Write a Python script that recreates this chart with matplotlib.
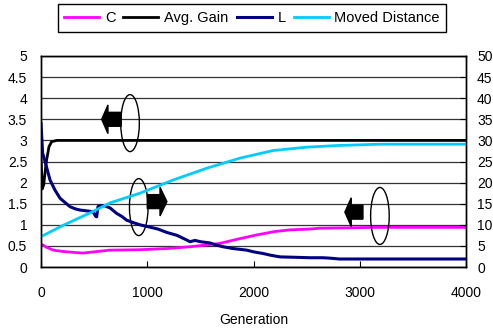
import matplotlib.pyplot as plt
from matplotlib.patches import Ellipse, Polygon

plt.rcParams['font.family'] = ['Liberation Sans', 'DejaVu Sans']
plt.rcParams['font.size'] = 10

# left axis series
c_gen = [0, 50, 116, 200, 336, 395, 500, 650, 932, 1200, 1402, 1550, 1684, 1850,
         2030, 2200, 2343, 2530, 2625, 3190, 4000]
c_val = [0.55, 0.47, 0.40, 0.37, 0.34, 0.33, 0.36, 0.40, 0.41, 0.44, 0.48, 0.52,
         0.56, 0.66, 0.76, 0.84, 0.88, 0.90, 0.92, 0.94, 0.94]

gain_gen = [0, 12, 25, 50, 75, 100, 150, 4000]
gain_val = [2.6, 1.85, 1.95, 2.5, 2.85, 2.97, 3.0, 3.0]

# right axis series
l_gen = [0, 15, 38, 85, 132, 179, 230, 273, 320, 367, 430, 489, 515, 524, 536, 555,
         600, 650, 712, 760, 806, 870, 932, 1000, 1100, 1183, 1280, 1371, 1402, 1450,
         1500, 1590, 1650, 1713, 1800, 1936, 2000, 2090, 2160, 2250, 2400, 2530, 2650,
         2720, 2810, 3000, 4000]
l_val = [34, 27, 25, 20.6, 18.2, 16.3, 15.2, 14.3, 13.8, 13.5, 13.3, 13.1, 12.0, 11.9,
         14.3, 14.5, 14.5, 14.0, 12.7, 12.0, 11.1, 10.5, 10.0, 9.6, 9.0, 8.2, 7.5, 6.4,
         6.0, 6.3, 6.0, 5.7, 5.2, 4.8, 4.4, 4.0, 3.6, 3.2, 2.8, 2.4, 2.3, 2.2, 2.2, 2.1,
         1.9, 1.9, 1.9]

dist_gen = [0, 210, 460, 650, 932, 1242, 1559, 1873, 2184, 2500, 2800, 3190, 4000]
dist_val = [7.2, 9.9, 12.8, 15.2, 17.5, 20.6, 23.4, 25.8, 27.6, 28.4, 28.8, 29.1, 29.1]

fig = plt.figure(figsize=(4.93, 3.29), dpi=100)
ax = fig.add_axes([0.0832, 0.1884, 0.862, 0.6414])
ax2 = ax.twinx()

ax.plot(c_gen, c_val, color='#FF00FF', lw=2, label='C')
ax.plot(gain_gen, gain_val, color='black', lw=2, label='Avg. Gain')
l2, = ax2.plot(l_gen, l_val, color='#000080', lw=2.2, label='L')
d2, = ax2.plot(dist_gen, dist_val, color='#00CCFF', lw=2, label='Moved Distance')

ax.set_xlim(0, 4000)
ax.set_ylim(0, 5)
ax2.set_ylim(0, 50)
ax.set_xticks([0, 1000, 2000, 3000, 4000])
ax.set_yticks([0, 0.5, 1, 1.5, 2, 2.5, 3, 3.5, 4, 4.5, 5])
ax.set_yticklabels(['0', '0.5', '1', '1.5', '2', '2.5', '3', '3.5', '4', '4.5', '5'])
ax2.set_yticks(range(0, 51, 5))
ax.grid(axis='y', color='#333333', lw=0.9)
ax.set_axisbelow(True)
ax.tick_params(axis='x', direction='in', length=4, width=0.8, pad=14)
ax.tick_params(axis='y', length=0, pad=10)
ax2.tick_params(direction='in', length=4, width=0.8, pad=8)
ax.set_xlabel('Generation', labelpad=9)
for a in (ax, ax2):
    for s in a.spines.values():
        s.set_linewidth(1)

# annotation ellipses and arrows (gen, value on left axis)
def arrow(x_tail, x_head, x_tip, yc, bh=0.33, hh=0.68):
    pts = [(x_tip, yc), (x_head, yc + hh / 2), (x_head, yc + bh / 2),
           (x_tail, yc + bh / 2), (x_tail, yc - bh / 2), (x_head, yc - bh / 2),
           (x_head, yc - hh / 2)]
    ax.add_patch(Polygon(pts, closed=True, color='black', zorder=5))

for xc, yc in [(838, 3.41), (920, 1.42), (3190, 1.21)]:
    ax.add_patch(Ellipse((xc, yc), 175, 1.35, fill=False, ec='black', lw=1, zorder=6))
arrow(755, 630, 571, 3.5)
arrow(1000, 1120, 1185, 1.55)
arrow(3030, 2920, 2860, 1.30)

h1, lab1 = ax.get_legend_handles_labels()
fig.legend(h1 + [l2, d2], lab1 + ['L', 'Moved Distance'], ncol=4,
           loc='center', bbox_to_anchor=(252 / 493, 1 - 18 / 329),
           frameon=True, fancybox=False, edgecolor='black', framealpha=1,
           handlelength=2.4, handletextpad=0.4, columnspacing=0.55,
           borderpad=0.45, borderaxespad=0, fontsize=10.5)

fig.savefig('out.png', dpi=100)
